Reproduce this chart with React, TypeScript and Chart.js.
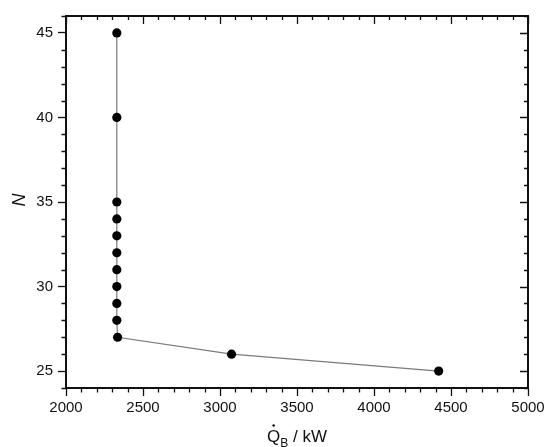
import React, { useEffect, useRef } from "react";
import { Chart, registerables } from "chart.js";

Chart.register(...registerables);

// Data
const heatDuty = [4420, 3075, 2335, 2330, 2330, 2330, 2330, 2330, 2330, 2330, 2330, 2330, 2330]; // Q_B / kW
const stages = [25, 26, 27, 28, 29, 30, 31, 32, 33, 34, 35, 40, 45]; // N

const xTicks = [2000, 2500, 3000, 3500, 4000, 4500, 5000];
const yTicks = [25, 30, 35, 40, 45];
const xMinorStep = 100;
const yMinorStep = 1;

const FONT = "'Liberation Sans', Arial, Helvetica, sans-serif";

const framePlugin = {
  id: "framePlugin",
  afterDraw(chart: any) {
    const { ctx, chartArea } = chart;
    const xs = chart.scales.x;
    const ys = chart.scales.y;
    const { left, right, top, bottom } = chartArea;
    ctx.save();
    ctx.strokeStyle = "#111";
    ctx.lineWidth = 2;
    ctx.beginPath();
    ctx.moveTo(left - 1, top);
    ctx.lineTo(right, top);
    ctx.lineTo(right, bottom + 1);
    ctx.stroke();

    ctx.lineWidth = 1.3;
    ctx.beginPath();
    for (let v = xs.min; v <= xs.max + 1e-6; v += xMinorStep) {
      const px = Math.round(xs.getPixelForValue(v)) + 0.5;
      const major = xTicks.includes(v);
      if (!major) {
        ctx.moveTo(px, bottom);
        ctx.lineTo(px, bottom + 4.5);
      }
      ctx.moveTo(px, top);
      ctx.lineTo(px, top + (major ? 8 : 4));
    }
    for (let v = ys.min; v <= ys.max + 1e-6; v += yMinorStep) {
      const py = Math.round(ys.getPixelForValue(v)) + 0.5;
      const major = yTicks.includes(v);
      if (!major) {
        ctx.moveTo(left, py);
        ctx.lineTo(left - 4.5, py);
      }
      ctx.moveTo(right, py);
      ctx.lineTo(right - (major ? 8 : 4), py);
    }
    ctx.stroke();

    // x-axis title: Q̇_B / kW
    const cx = (left + right) / 2;
    const base = 442;
    const mainFont = `17px ${FONT}`;
    const subFont = `12px ${FONT}`;
    ctx.fillStyle = "#111";
    ctx.font = mainFont;
    const wQ = ctx.measureText("Q").width;
    const wRest = ctx.measureText(" / kW").width;
    ctx.font = subFont;
    const wB = ctx.measureText("B").width;
    const total = wQ + wB + wRest;
    const x0 = cx - total / 2;
    ctx.textBaseline = "alphabetic";
    ctx.textAlign = "left";
    ctx.font = mainFont;
    ctx.fillText("Q", x0, base);
    ctx.beginPath();
    ctx.arc(x0 + wQ / 2, base - 16.5, 1.3, 0, Math.PI * 2);
    ctx.fill();
    ctx.font = subFont;
    ctx.fillText("B", x0 + wQ, base + 4.5);
    ctx.font = mainFont;
    ctx.fillText(" / kW", x0 + wQ + wB, base);

    // y-axis title: N
    ctx.save();
    ctx.translate(20, (top + bottom) / 2 - 2);
    ctx.rotate(-Math.PI / 2);
    ctx.font = `italic 18px ${FONT}`;
    ctx.textAlign = "center";
    ctx.textBaseline = "middle";
    ctx.fillText("N", 0, 0);
    ctx.restore();

    ctx.restore();
  },
};

export default function App() {
  const ref = useRef<HTMLCanvasElement | null>(null);
  useEffect(() => {
    if (!ref.current) return;
    const chart = new Chart(ref.current, {
      type: "scatter",
      data: {
        datasets: [
          {
            data: heatDuty.map((q, i) => ({ x: q, y: stages[i] })),
            showLine: true,
            borderColor: "#7a7a7a",
            borderWidth: 1.2,
            pointRadius: 4.6,
            pointBackgroundColor: "#000",
            pointBorderColor: "#000",
            pointBorderWidth: 0,
            pointHoverRadius: 4.6,
          },
        ],
      },
      options: {
        animation: false,
        responsive: true,
        maintainAspectRatio: false,
        layout: { padding: { top: 16, right: 17, left: 0, bottom: 0 } },
        plugins: {
          legend: { display: false },
          tooltip: { enabled: false },
        },
        scales: {
          x: {
            type: "linear",
            min: 2000,
            max: 5000,
            afterBuildTicks: (s: any) => {
              s.ticks = xTicks.map((v) => ({ value: v }));
            },
            afterFit: (s: any) => {
              s.height = 59;
              s.paddingLeft = 0;
              s.paddingRight = 0;
            },
            ticks: {
              color: "#111",
              font: { family: FONT, size: 15 },
              padding: 3,
              maxRotation: 0,
              autoSkip: false,
              callback: (v: any) => String(v),
            },
            grid: {
              drawOnChartArea: false,
              drawTicks: true,
              tickLength: 8,
              tickWidth: 1.3,
              tickColor: "#111",
            },
            border: { display: true, color: "#111", width: 2 },
          },
          y: {
            type: "linear",
            min: 24,
            max: 46,
            afterBuildTicks: (s: any) => {
              s.ticks = yTicks.map((v) => ({ value: v }));
            },
            afterFit: (s: any) => {
              s.width = 66;
              s.paddingTop = 0;
              s.paddingBottom = 0;
            },
            ticks: {
              color: "#111",
              font: { family: FONT, size: 15 },
              padding: 5,
              autoSkip: false,
              callback: (v: any) => String(v),
            },
            grid: {
              drawOnChartArea: false,
              drawTicks: true,
              tickLength: 8,
              tickWidth: 1.3,
              tickColor: "#111",
            },
            border: { display: true, color: "#111", width: 2 },
          },
        },
      },
      plugins: [framePlugin],
    });
    return () => chart.destroy();
  }, []);

  return (
    <div style={{ position: "fixed", left: 0, top: 0, width: 545, height: 447, background: "#fff" }}>
      <canvas ref={ref} />
    </div>
  );
}
